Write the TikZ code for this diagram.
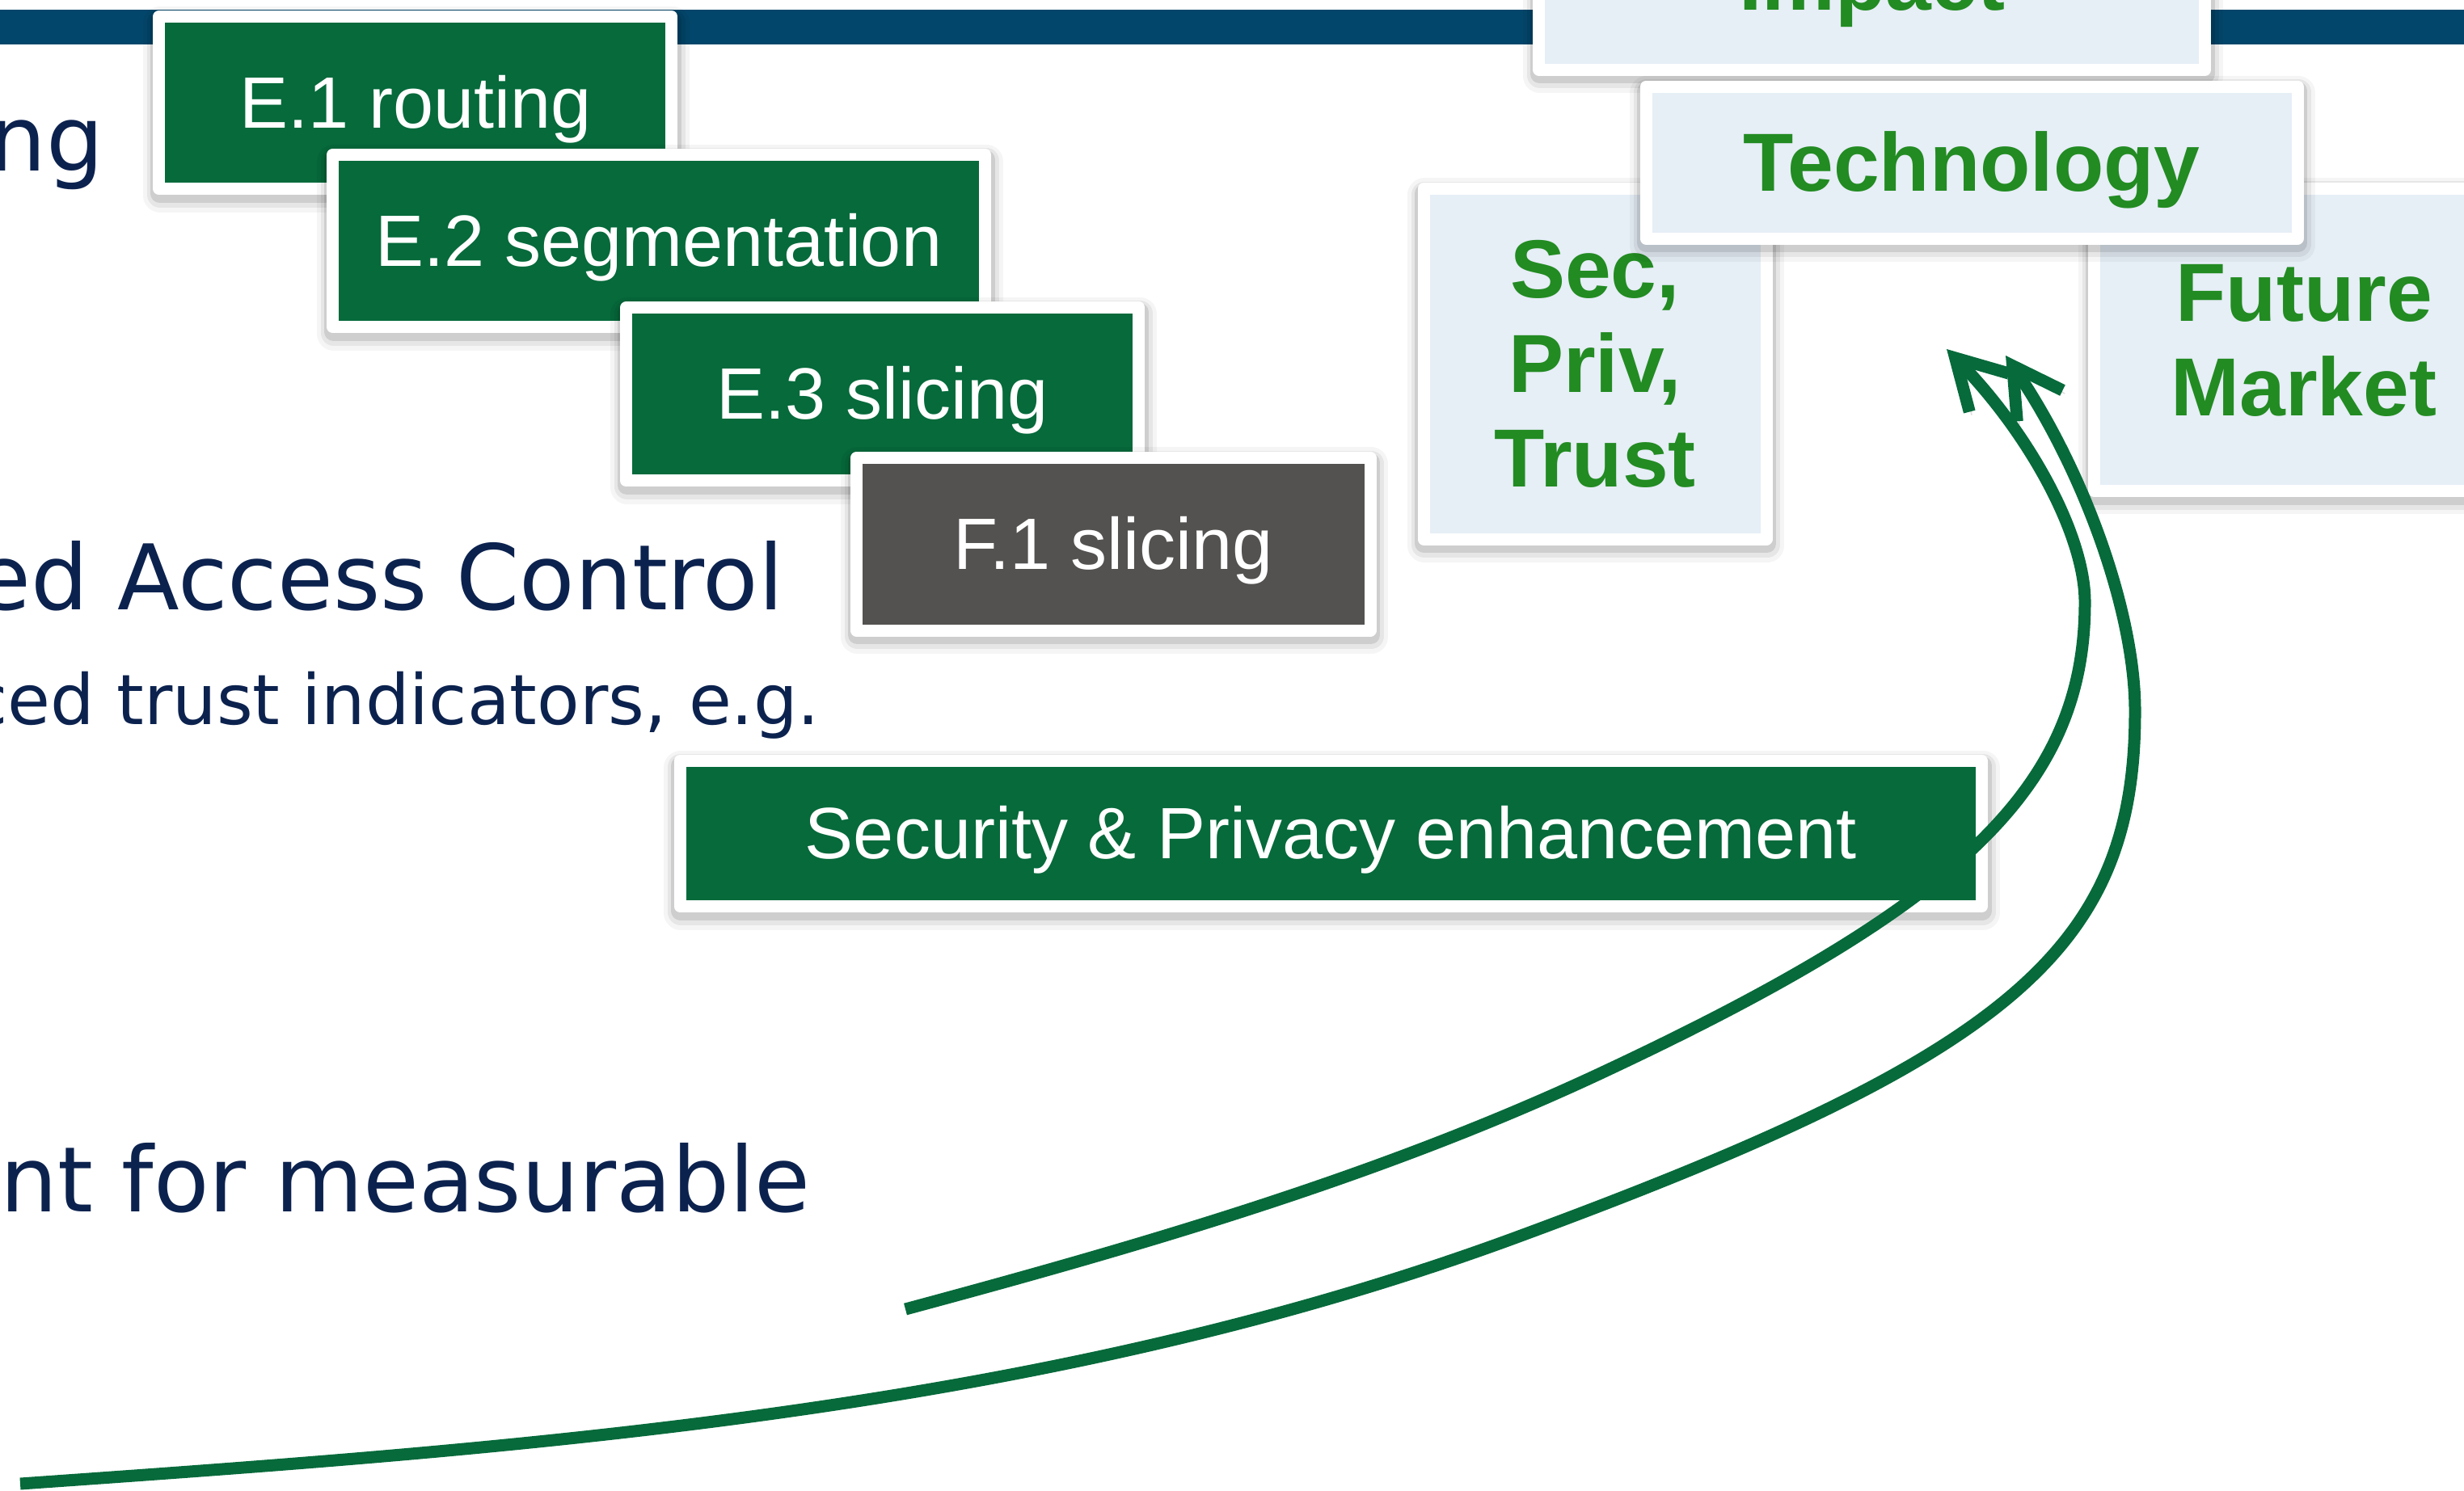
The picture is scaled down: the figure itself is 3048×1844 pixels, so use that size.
\documentclass[tikz,border=0pt]{standalone}
\usepackage{fontspec}
\usetikzlibrary{arrows.meta}
\newfontfamily\arialfont{Liberation Sans}
\newfontfamily\verdfont{DejaVu Sans}
\definecolor{boxgreen}{RGB}{6,106,59}
\definecolor{boxgrey}{RGB}{84,82,80}
\definecolor{lightbox}{RGB}{230,238,246}
\definecolor{headgreen}{RGB}{34,139,34}
\definecolor{bandblue}{RGB}{3,70,107}
\definecolor{navytext}{RGB}{12,34,78}
\newcommand\mystrut{\rule[-0.212em]{0pt}{1.117em}}
\tikzset{
  softshadow/.style={
    preaction={draw=black, opacity=0.04, line width=10.5pt, line join=round, transform canvas={xshift=0.3pt, yshift=-2pt}},
    preaction={draw=black, opacity=0.06, line width=8pt, line join=round, transform canvas={xshift=0.3pt, yshift=-1.8pt}},
    preaction={draw=black, opacity=0.10, line width=5.75pt, line join=round, transform canvas={xshift=0.2pt, yshift=-1.4pt}}},
  pbox/.style={softshadow, draw=white, line width=3.75pt, line join=round, inner sep=0pt,
    text=white, font=\arialfont\fontsize{22.5pt}{27pt}\selectfont},
  gbox/.style={pbox, fill=boxgreen},
  greybox/.style={pbox, fill=boxgrey},
  hbox/.style={pbox, fill=lightbox, text=headgreen, align=center,
    font=\arialfont\bfseries\fontsize{25.5pt}{29.25pt}\selectfont},
  bigbody/.style={text=navytext, inner sep=0pt, anchor=base east,
    font=\verdfont\fontsize{28pt}{33pt}\selectfont},
  smallbody/.style={text=navytext, inner sep=0pt, anchor=base east,
    font=\verdfont\fontsize{21.5pt}{26pt}\selectfont},
  arr/.style={draw=boxgreen, line width=3.75pt,
    -{Straight Barb[length=15pt,width=17pt]},
    preaction={draw=black, opacity=0.13, transform canvas={xshift=0.7pt, yshift=-1pt}}},
}
\begin{document}
\begin{tikzpicture}[x=0.25pt, y=-0.25pt]
\useasboundingbox (0,0) rectangle (3048,1844);
\clip (0,0) rectangle (3048,1844);
\fill[white] (0,0) rectangle (3048,1844);
% top band
\fill[bandblue] (0,12) rectangle (3048,55);

% body text (cut at the left edge)
\node[bigbody] (t1) at (129,211) {ng};
\node[bigbody] (t2) at (970,754) {ed Access Control};
\node[smallbody] (t3) at (1015,896) {ced trust indicators, e.g.};
\node[bigbody] (t4) at (1003,1499) {nt for measurable};

% stair of work items
\node[gbox, minimum width=158.6pt, minimum height=53.25pt] (e1) at (513.75,127) {\mystrut E.1 routing};
\node[gbox, minimum width=201.75pt, minimum height=53.25pt] (e2) at (815,298) {\mystrut E.2 segmentation};
\node[gbox, minimum width=158.6pt, minimum height=53.6pt] (e3) at (1091.75,487.75) {\mystrut E.3 slicing};
\node[greybox, minimum width=158.9pt, minimum height=53.4pt] (f1) at (1377.25,673.25) {\mystrut F.1 slicing};
\node[gbox, minimum width=402.6pt, minimum height=45pt] (sp) at (1646.25,1031.5) {\mystrut Security \& Privacy enhancement};

% heading boxes
\node[hbox, minimum width=206.1pt, minimum height=54.5pt] (impact) at (2315.75,-23) {\mystrut Impact};
\node[hbox, minimum width=106pt, minimum height=108.4pt] (sec) at (1973,450.25) {\mystrut Sec,\\\mystrut Priv,\\\mystrut Trust};
\node[hbox, minimum width=129.75pt, minimum height=93.6pt] (future) at (2850,420.25) {\mystrut Future\\\mystrut Market};
\node[hbox, minimum width=201.5pt, minimum height=47pt] (tech) at (2439,201) {\mystrut Technology};

% curved arrows
\coordinate (i0) at (1120,1620);
\coordinate (im) at (1978,1329);
\coordinate (ir) at (2579,745);
\coordinate (itip) at (2408,432);
\coordinate (o0) at (25,1836);
\coordinate (om) at (1876,1531);
\coordinate (or) at (2641,880);
\coordinate (otip) at (2481,440);

\draw[arr] (i0) .. controls (1411.6,1541.4) and (1704.4,1456.7) .. (im)
  .. controls (2428.75,1118.25) and (2579,972.25) .. (ir)
  .. controls (2579,662.2) and (2510.6,537) .. (itip);
\draw[arr] (o0) .. controls (649,1792) and (1290,1747) .. (om)
  .. controls (2488,1305.4) and (2641,1175.2) .. (or)
  .. controls (2641,755.2) and (2575.8,579.2) .. (otip);
\end{tikzpicture}
\end{document}
